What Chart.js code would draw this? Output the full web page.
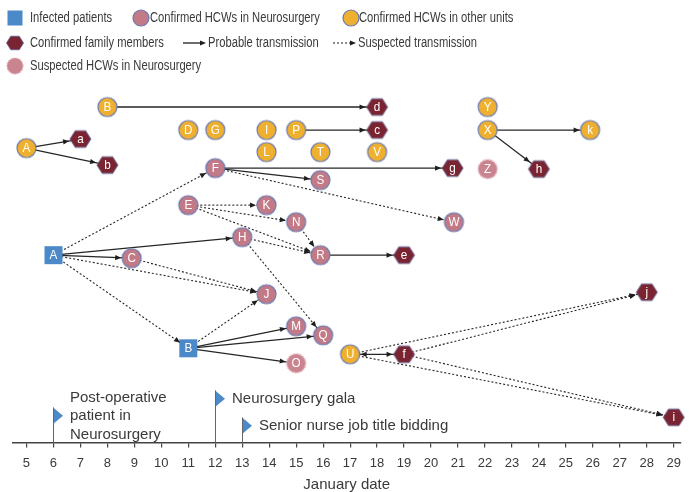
<!DOCTYPE html>
<html>
<head>
<meta charset="utf-8">
<script src="https://cdn.jsdelivr.net/npm/chart.js@4"></script>
<style>
  html, body { margin: 0; padding: 0; background: #fff; }
  #wrap { width: 689px; height: 492px; }
</style>
</head>
<body>
<div id="wrap"><canvas id="chart"></canvas></div>
<script>
// ---- data ----
// nodes: x = January date, y = vertical level (0 = date axis)
const nodeIds    = ['A1','a','b','B1','D','G','I','P','L','T','d','c','V','Y','X','k','Z','h','g','F','S','E','K','N','W','H','R','e','A2','C','J','M','Q','B2','O','U','f','j','i'];
const nodeLabels = ['A','a','b','B','D','G','I','P','L','T','d','c','V','Y','X','k','Z','h','g','F','S','E','K','N','W','H','R','e','A','C','J','M','Q','B','O','U','f','j','i'];
const nodeDates  = [5, 7, 8, 8, 11, 12, 13.9, 15, 13.9, 15.9, 18, 18, 18, 22.1, 22.1, 25.9, 22.1, 24, 20.8, 12, 15.9, 11, 13.9, 15, 20.85, 13, 15.9, 19, 6, 8.9, 13.9, 15, 16, 11, 15, 17, 19, 28, 29];
const nodeLevels = [29.4, 30.3, 27.7, 33.5, 31.2, 31.2, 31.2, 31.2, 29.0, 29.0, 33.5, 31.2, 29.0, 33.5, 31.2, 31.2, 27.3, 27.3, 27.4, 27.4, 26.2, 23.7, 23.7, 22.0, 22.0, 20.5, 18.7, 18.7, 18.7, 18.4, 14.8, 11.6, 10.7, 9.4, 7.9, 8.8, 8.8, 15.0, 2.5];
const nodeTypes  = ['other','family','family','other','other','other','other','other','other','other','family','family','other','other','other','other','suspected','family','family','hcw','hcw','hcw','hcw','hcw','hcw','hcw','hcw','family','patient','hcw','hcw','hcw','hcw','patient','suspected','other','family','family','family'];

// transmission links
const edgeFrom  = ['A1','A1','B1','P','X','X','F','F','A2','A2','R','B2','B2','B2','U', 'A2','A2','A2','C','F','E','E','E','H','N','H','B2','U','f','U','f'];
const edgeTo    = ['a','b','d','c','k','h','g','S','H','C','e','M','Q','O','f', 'F','J','B2','J','W','K','N','R','R','R','Q','J','j','j','i','i'];
const edgeKinds = ['probable','probable','probable','probable','probable','probable','probable','probable','probable','probable','probable','probable','probable','probable','both',
                   'suspected','suspected','suspected','suspected','suspected','suspected','suspected','suspected','suspected','suspected','suspected','suspected','suspected','suspected','suspected','suspected'];

// events on the timeline
const eventDates  = [6, 12, 13];
const eventLevels = [3.5, 5.2, 2.5];
const eventTexts  = [['Post-operative', 'patient in', 'Neurosurgery'], ['Neurosurgery gala'], ['Senior nurse job title bidding']];

const dayTicks = [5,6,7,8,9,10,11,12,13,14,15,16,17,18,19,20,21,22,23,24,25,26,27,28,29];

// ---- styles ----
const FONT = '"Liberation Sans", Arial, sans-serif';
const TEXT = '#3a3a3a';
const typeOrder = ['patient','hcw','other','family','suspected'];
const typeRadius = { patient: 9, hcw: 9.5, other: 9.5, family: 10.5, suspected: 9.5 };

function drawShape(g, type, cx, cy, r) {
  g.save();
  if (type === 'patient') {
    g.fillStyle = '#4b89c8';
    g.fillRect(cx - r, cy - r, 2 * r, 2 * r);
  } else if (type === 'family') {
    g.beginPath();
    for (let k = 0; k < 6; k++) {
      const a = Math.PI / 3 * k;
      const px = cx + r * Math.cos(a), py = cy + r * 0.92 * Math.sin(a);
      k ? g.lineTo(px, py) : g.moveTo(px, py);
    }
    g.closePath();
    g.fillStyle = '#7a2431';
    g.fill();
    g.strokeStyle = '#5f5f95';
    g.lineWidth = 0.8;
    g.stroke();
  } else {
    g.beginPath();
    g.arc(cx, cy, r, 0, Math.PI * 2);
    if (type === 'suspected') {
      g.fillStyle = '#c9848f';
      g.fill();
      g.setLineDash([1.5, 1.5]);
      g.strokeStyle = '#e0b3ba';
      g.lineWidth = 1.4;
      g.stroke();
    } else {
      g.fillStyle = type === 'hcw' ? '#c27a87' : '#efb030';
      g.fill();
      g.strokeStyle = '#6a7bb4';
      g.lineWidth = 1.2;
      g.stroke();
    }
  }
  g.restore();
}

function makeIcon(type) {
  const r = typeRadius[type];
  const c = document.createElement('canvas');
  const s = Math.ceil(2 * r + 4);
  c.width = s; c.height = s;
  drawShape(c.getContext('2d'), type, s / 2, s / 2, r);
  return c;
}

// narrow text, the figure uses a condensed face
function narrowText(ctx, t, x, y, sx) {
  ctx.save();
  ctx.translate(x, y);
  ctx.scale(sx, 1);
  ctx.fillText(t, 0, 0);
  ctx.restore();
}

const idx = id => nodeIds.indexOf(id);

// edges first (drawn below nodes)
const edgeSets = edgeFrom.map((f, i) => {
  const a = idx(f), b = idx(edgeTo[i]);
  return {
    data: [{ x: nodeDates[a], y: nodeLevels[a] }, { x: nodeDates[b], y: nodeLevels[b] }],
    showLine: true,
    borderColor: '#262626',
    borderWidth: edgeKinds[i] === 'suspected' ? 1.1 : 1.3,
    borderDash: edgeKinds[i] === 'suspected' ? [2, 2] : [],
    pointRadius: 0,
    order: 2
  };
});

const nodeSets = typeOrder.map(t => ({
  data: nodeIds.map((id, i) => nodeTypes[i] === t ? { x: nodeDates[i], y: nodeLevels[i] } : null).filter(Boolean),
  pointStyle: makeIcon(t),
  showLine: false,
  clip: false,
  order: 0
}));

function arrowHead(ctx, sx, sy, tx, ty, rt) {
  const dx = tx - sx, dy = ty - sy, L = Math.hypot(dx, dy);
  const ux = dx / L, uy = dy / L;
  const px = tx - ux * rt, py = ty - uy * rt;
  const len = 6, w = 2.6;
  ctx.beginPath();
  ctx.moveTo(px, py);
  ctx.lineTo(px - ux * len - uy * w, py - uy * len + ux * w);
  ctx.lineTo(px - ux * len + uy * w, py - uy * len - ux * w);
  ctx.closePath();
  ctx.fill();
}

const networkPlugin = {
  id: 'network',
  afterDatasetsDraw(chart) {
    const { ctx, scales: { x, y } } = chart;
    ctx.save();
    // arrowheads
    ctx.fillStyle = '#1e1e1e';
    edgeFrom.forEach((f, i) => {
      const a = idx(f), b = idx(edgeTo[i]);
      const sx = x.getPixelForValue(nodeDates[a]), sy = y.getPixelForValue(nodeLevels[a]);
      const tx = x.getPixelForValue(nodeDates[b]), ty = y.getPixelForValue(nodeLevels[b]);
      arrowHead(ctx, sx, sy, tx, ty, typeRadius[nodeTypes[b]] + 1);
      if (edgeKinds[i] === 'both') arrowHead(ctx, tx, ty, sx, sy, typeRadius[nodeTypes[a]] + 1);
    });
    // node labels
    ctx.fillStyle = '#ffffff';
    ctx.font = '13px ' + FONT;
    ctx.textAlign = 'center';
    ctx.textBaseline = 'middle';
    nodeIds.forEach((id, i) => {
      narrowText(ctx, nodeLabels[i], x.getPixelForValue(nodeDates[i]), y.getPixelForValue(nodeLevels[i]) + 0.5, 0.9);
    });
    // timeline events
    const base = y.getPixelForValue(0);
    eventDates.forEach((d, i) => {
      const px = Math.round(x.getPixelForValue(d)) + 0.5;
      const top = y.getPixelForValue(eventLevels[i]);
      ctx.strokeStyle = '#666';
      ctx.lineWidth = 1;
      ctx.beginPath();
      ctx.moveTo(px, base);
      ctx.lineTo(px, top);
      ctx.stroke();
      ctx.fillStyle = '#4b89c8';
      ctx.beginPath();
      ctx.moveTo(px + 0.5, top + 1);
      ctx.lineTo(px + 9.5, top + 8.5);
      ctx.lineTo(px + 0.5, top + 16);
      ctx.closePath();
      ctx.fill();
      ctx.fillStyle = TEXT;
      ctx.font = '15px ' + FONT;
      ctx.textAlign = 'left';
      const lines = eventTexts[i];
      const mid = top + 8.5;
      lines.forEach((t, k) => {
        ctx.fillText(t, px + 16.5, mid + (k - (lines.length - 1) / 2) * 18.5);
      });
    });
    ctx.restore();
  },
  afterDraw(chart) {
    const ctx = chart.ctx;
    const SX = 0.8;
    ctx.save();
    ctx.font = '14px ' + FONT;
    ctx.textBaseline = 'middle';
    ctx.textAlign = 'left';
    // row 1
    drawShape(ctx, 'patient', 15, 18, 7.5);
    ctx.fillStyle = TEXT; narrowText(ctx, 'Infected patients', 30, 18, SX);
    drawShape(ctx, 'hcw', 141, 18, 8);
    ctx.fillStyle = TEXT; narrowText(ctx, 'Confirmed HCWs in Neurosurgery', 150, 18, SX);
    drawShape(ctx, 'other', 351, 18, 8);
    ctx.fillStyle = TEXT; narrowText(ctx, 'Confirmed HCWs in other units', 359, 18, SX);
    // row 2
    drawShape(ctx, 'family', 15, 43, 8.5);
    ctx.fillStyle = TEXT; narrowText(ctx, 'Confirmed family members', 30, 43, SX);
    ctx.strokeStyle = '#1e1e1e'; ctx.fillStyle = '#1e1e1e'; ctx.lineWidth = 1.3;
    ctx.beginPath(); ctx.moveTo(183, 43); ctx.lineTo(200, 43); ctx.stroke();
    arrowHead(ctx, 183, 43, 206, 43, 0);
    ctx.fillStyle = TEXT; narrowText(ctx, 'Probable transmission', 208, 43, SX);
    ctx.strokeStyle = '#1e1e1e'; ctx.fillStyle = '#1e1e1e'; ctx.lineWidth = 1.1;
    ctx.setLineDash([2, 2]);
    ctx.beginPath(); ctx.moveTo(333, 43); ctx.lineTo(350, 43); ctx.stroke();
    ctx.setLineDash([]);
    arrowHead(ctx, 333, 43, 356, 43, 0);
    ctx.fillStyle = TEXT; narrowText(ctx, 'Suspected transmission', 358, 43, SX);
    // row 3
    drawShape(ctx, 'suspected', 15, 66, 8);
    ctx.fillStyle = TEXT; narrowText(ctx, 'Suspected HCWs in Neurosurgery', 30, 66, SX);
    ctx.restore();
  }
};

new Chart(document.getElementById('chart'), {
  type: 'scatter',
  data: { datasets: edgeSets.concat(nodeSets) },
  options: {
    responsive: true,
    maintainAspectRatio: false,
    animation: false,
    layout: { padding: { top: 92, left: 13, right: 3, bottom: -2 } },
    plugins: { legend: { display: false }, tooltip: { enabled: false } },
    scales: {
      x: {
        type: 'linear',
        min: 4.5,
        max: 29.25,
        afterBuildTicks: s => { s.ticks = dayTicks.map(v => ({ value: v })); },
        grid: { drawOnChartArea: false, drawTicks: true, tickLength: 5, color: '#444', lineWidth: 1.2 },
        border: { display: true, color: '#444', width: 1.5 },
        ticks: { color: TEXT, font: { family: 'Liberation Sans, Arial, sans-serif', size: 13 }, padding: 8 },
        title: { display: true, text: 'January date', color: TEXT, font: { family: FONT, size: 15 }, padding: { top: -3, bottom: 0 } }
      },
      y: { display: false, min: 0, max: 35 }
    }
  },
  plugins: [networkPlugin]
});
</script>
</body>
</html>
